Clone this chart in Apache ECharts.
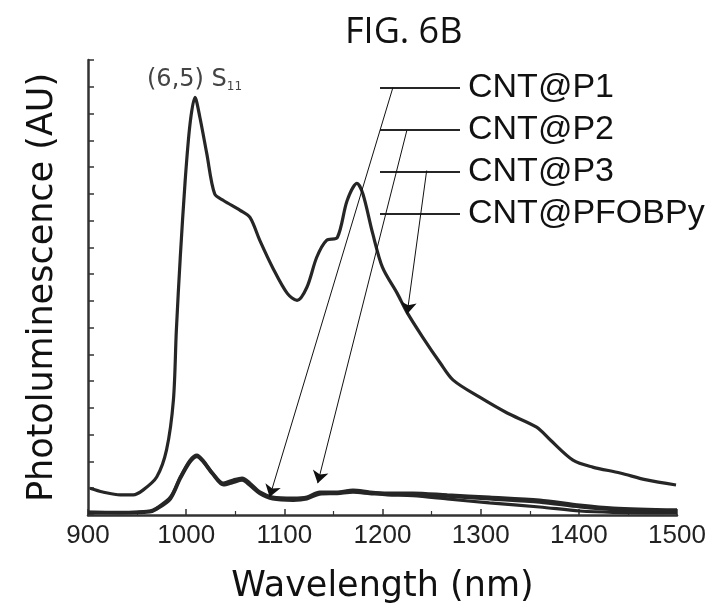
<!DOCTYPE html>
<html>
<head>
<meta charset="utf-8">
<script src="https://cdn.jsdelivr.net/npm/echarts@6/dist/echarts.min.js"></script>
<style>html,body{margin:0;padding:0;background:#fff;}#chart{width:722px;height:615px;}</style>
</head>
<body>
<div id="chart"></div>
<script>
// ---- data ----
const xTicks = [900, 1000, 1100, 1200, 1300, 1400, 1500];
const seriesNames = ['CNT@P1', 'CNT@P2', 'CNT@P3', 'CNT@PFOBPy'];

// CNT@P3 (strong emission)
const p3X = [902, 915, 933, 946, 956, 970, 980, 987, 990, 994, 999, 1004, 1009, 1014, 1021, 1029, 1038, 1055, 1065, 1075, 1088, 1103, 1113, 1123, 1133, 1143, 1154, 1164, 1174, 1180, 1190, 1200, 1215, 1225, 1241, 1259, 1272, 1299, 1327, 1357, 1371, 1394, 1414, 1442, 1469, 1499];
const p3Y = [1.0, 0.86, 0.75, 0.75, 0.93, 1.42, 2.43, 4.29, 6.9, 9.63, 12.5, 14.63, 15.6, 14.85, 13.5, 12.0, 11.75, 11.38, 11.12, 10.26, 9.25, 8.28, 8.02, 8.51, 9.63, 10.26, 10.37, 11.75, 12.39, 12.0, 10.52, 9.25, 8.28, 7.57, 6.64, 5.67, 5.04, 4.40, 3.81, 3.28, 2.80, 2.05, 1.79, 1.57, 1.31, 1.12];

// weak emission curves (overlapping near the baseline)
const lowX = [900, 933, 963, 970, 984, 994, 1004, 1011, 1017, 1027, 1038, 1048, 1057, 1065, 1075, 1088, 1109, 1123, 1136, 1154, 1170, 1187, 1205, 1231, 1266, 1309, 1360, 1401, 1435, 1500];
const pfobpyY = [0.11, 0.10, 0.15, 0.26, 0.67, 1.42, 2.05, 2.24, 2.05, 1.57, 1.19, 1.31, 1.38, 1.19, 0.86, 0.67, 0.63, 0.67, 0.86, 0.86, 0.93, 0.86, 0.82, 0.82, 0.75, 0.67, 0.56, 0.37, 0.26, 0.19];
const p1Y     = [0.08, 0.08, 0.12, 0.22, 0.60, 1.35, 1.98, 2.18, 2.00, 1.52, 1.12, 1.22, 1.30, 1.10, 0.80, 0.60, 0.55, 0.60, 0.78, 0.80, 0.85, 0.80, 0.75, 0.72, 0.60, 0.45, 0.30, 0.15, 0.10, 0.08];
const p2Y     = [0.10, 0.09, 0.14, 0.24, 0.64, 1.40, 2.02, 2.20, 2.02, 1.55, 1.16, 1.27, 1.34, 1.15, 0.83, 0.64, 0.60, 0.64, 0.82, 0.83, 0.90, 0.84, 0.79, 0.78, 0.70, 0.60, 0.48, 0.30, 0.20, 0.14];

// annotation arrows: from legend lines to curves [x1, y1, x2, y2]
const arrowP1 = [1210.6, 15.97, 1085, 0.67];
const arrowP2 = [1224.8, 14.37, 1134, 1.19];
const arrowP3 = [1245, 12.87, 1225, 7.5];

// ---- chart ----
const pairs = (xs, ys) => xs.map((x, i) => [x, ys[i]]);
const lineColor = '#262626';
const arrowLine = a => [{coord: [a[0], a[1]], symbol: 'none'}, {coord: [a[2], a[3]], symbol: 'arrow'}];

function mkSeries(name, data, extra) {
  return Object.assign({
    name: name, type: 'line', data: data, smooth: 0.3, symbol: 'none',
    lineStyle: {width: 3.2, color: lineColor}, itemStyle: {color: lineColor},
    emphasis: {disabled: true}, z: 3
  }, extra || {});
}

const chart = echarts.init(document.getElementById('chart'), null, {renderer: 'canvas'});
chart.setOption({
  animation: false,
  backgroundColor: '#fff',
  title: {
    text: 'FIG. 6B', left: 340, top: 10,
    textStyle: {fontFamily: 'Open Sans', fontSize: 36, fontWeight: 'normal', color: '#111'}
  },
  grid: {left: 88, right: 45, top: 60, bottom: 100},
  legend: {
    data: seriesNames, orient: 'vertical', left: 380, top: 71, padding: 0,
    icon: 'rect', itemWidth: 80, itemHeight: 2, itemGap: 8,
    textStyle: {fontFamily: 'Liberation Sans', fontSize: 34, color: '#111', padding: [0, 0, 0, 3]},
    selectedMode: false
  },
  xAxis: {
    type: 'value', min: xTicks[0], max: xTicks[xTicks.length - 1], interval: 100,
    name: 'Wavelength (nm)', nameLocation: 'middle', nameGap: 54,
    nameTextStyle: {fontFamily: 'DejaVu Sans', fontSize: 35, color: '#111'},
    axisLine: {lineStyle: {color: '#333', width: 2.5}},
    axisTick: {inside: true, length: 6, lineStyle: {width: 1.5, color: '#333'}},
    minorTick: {show: true, splitNumber: 2, length: 4, lineStyle: {width: 1.2, color: '#333'}},
    axisLabel: {fontFamily: 'Liberation Sans', fontSize: 26, color: '#222', margin: 8, formatter: v => String(v)},
    splitLine: {show: false}
  },
  yAxis: {
    type: 'value', min: 0, max: 17, interval: 1,
    name: 'Photoluminescence (AU)', nameLocation: 'middle', nameGap: 28,
    nameTextStyle: {fontFamily: 'DejaVu Sans', fontSize: 35, color: '#111'},
    axisLine: {show: true, lineStyle: {color: '#333', width: 2.5}},
    axisTick: {inside: true, length: 6, lineStyle: {width: 1.5, color: '#333'}},
    axisLabel: {show: false},
    splitLine: {show: false}
  },
  series: [
    mkSeries('CNT@P1', pairs(lowX, p1Y)),
    mkSeries('CNT@P2', pairs(lowX, p2Y)),
    mkSeries('CNT@P3', pairs(p3X, p3Y), {
      markLine: {
        silent: true, symbol: ['none', 'arrow'], symbolSize: 12, animation: false,
        label: {show: false},
        lineStyle: {type: 'solid', width: 1, color: '#111'},
        data: [arrowLine(arrowP1), arrowLine(arrowP2), arrowLine(arrowP3)]
      }
    }),
    mkSeries('CNT@PFOBPy', pairs(lowX, pfobpyY))
  ],
  graphic: [{
    type: 'text', left: 147, top: 68,
    style: {
      text: '(6,5) S{sub|11}',
      fontFamily: 'DejaVu Sans', fontSize: 24, fill: '#444',
      rich: {sub: {fontFamily: 'DejaVu Sans', fontSize: 12, fill: '#444', verticalAlign: 'bottom', padding: [14, 0, 0, 0]}}
    }
  }]
});
</script>
</body>
</html>
